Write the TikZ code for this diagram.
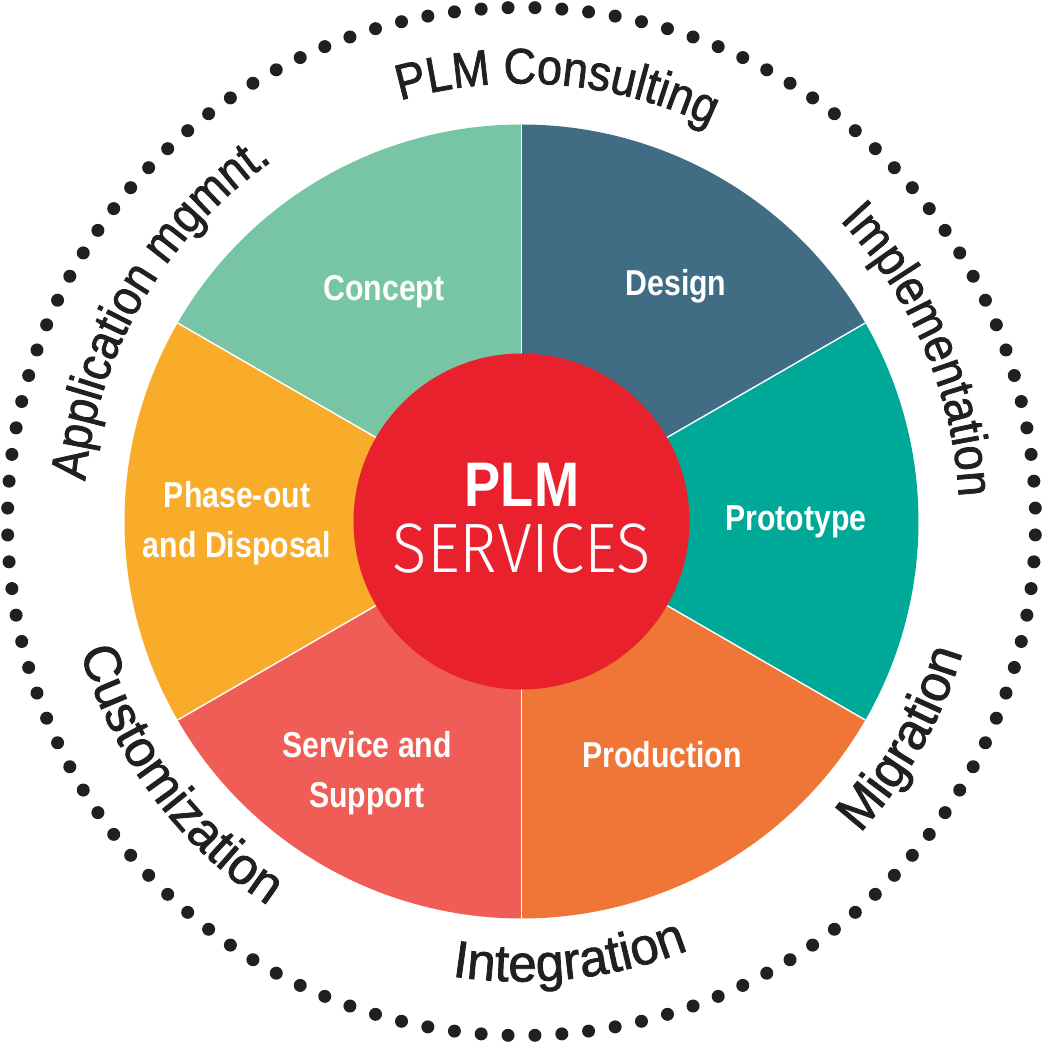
\documentclass[tikz,border=0pt]{standalone}
\usepackage{fontspec}
\usetikzlibrary{decorations.text}
\newfontfamily\outerf[FakeStretch=0.9,FakeBold=1.5]{Liberation Sans}
\newfontfamily\outerbf[FakeStretch=0.98,FakeBold=1.5]{Liberation Sans}
\newfontfamily\segf[FakeStretch=0.84]{Liberation Sans}
\newfontfamily\plmf[FakeStretch=0.86]{Liberation Sans}
\newfontfamily\lightf[FakeStretch=0.91]{Fira Sans Light}
\definecolor{cconcept}{HTML}{78C5A5}
\definecolor{cdesign}{HTML}{416D84}
\definecolor{cproto}{HTML}{00A997}
\definecolor{cprod}{HTML}{F07638}
\definecolor{cservice}{HTML}{EF5D56}
\definecolor{cphase}{HTML}{F8AC29}
\definecolor{chub}{HTML}{E9212D}
\definecolor{cdark}{HTML}{231F20}
\newcommand\olab{\outerf\fontsize{50}{60}\selectfont}
\newcommand\olabb{\outerbf\fontsize{52}{60}\selectfont}
\tikzset{
  seglab/.style={text=white, anchor=base, inner sep=0pt, font=\segf\bfseries\fontsize{36}{40}\selectfont},
  cwlabel/.style={decorate, decoration={text along path, text align=center, text color=cdark, text={|\olab|#1}}},
  ccwlabel/.style={decorate, decoration={text along path, text align=center, text color=cdark, text={|\olabb|#1}}}
}
\begin{document}
\begin{tikzpicture}[x=1pt,y=1pt]
\useasboundingbox (-521.5,-521.5) rectangle (522.5,521.5);
\def\R{397}
% dotted ring
\foreach \k in {0,...,119}
  \fill[cdark] ({1.5+3*\k}:514) circle[radius=6.5];
% wheel segments
\fill[cdesign]  (0,0) -- (30:\R)  arc[start angle=30,  end angle=90,  radius=\R] -- cycle;
\fill[cconcept] (0,0) -- (90:\R)  arc[start angle=90,  end angle=150, radius=\R] -- cycle;
\fill[cphase]   (0,0) -- (150:\R) arc[start angle=150, end angle=210, radius=\R] -- cycle;
\fill[cservice] (0,0) -- (210:\R) arc[start angle=210, end angle=270, radius=\R] -- cycle;
\fill[cprod]    (0,0) -- (270:\R) arc[start angle=270, end angle=330, radius=\R] -- cycle;
\fill[cproto]   (0,0) -- (-30:\R) arc[start angle=-30, end angle=30,  radius=\R] -- cycle;
\foreach \a in {30,90,150,210,270,330}
  \draw[white, line width=1.4pt] (0,0) -- (\a:\R);
% hub
\node[circle, fill=chub, minimum size=336pt, inner sep=0pt] (hub) at (0,0) {};
\node[text=white, anchor=base, inner sep=0pt, font=\plmf\bfseries\fontsize{63}{70}\selectfont] (plm) at (0.5,14.5) {PLM};
\node[text=white, anchor=base, inner sep=0pt, font=\lightf\fontsize{70}{80}\selectfont] (services) at (0.5,-51.5) {SERVICES};
% segment labels
\node[seglab] (concept) at (-137.5,221) {Concept};
\node[seglab] (design) at (154.5,225.5) {Design};
\node[seglab] (proto) at (274.5,-9.5) {Prototype};
\node[seglab] (prod) at (140.5,-246.5) {Production};
\node[seglab] (serv1) at (-154.5,-236.5) {Service and};
\node[seglab] (serv2) at (-154.5,-285.5) {Support};
\node[seglab] (phase1) at (-284.5,13.5) {Phase-out};
\node[seglab] (phase2) at (-284.5,-36) {and Disposal};
% outer labels (clockwise, top half)
\path[cwlabel={PLM Consulting}] (130.3:438) arc[start angle=130.3, end angle=40.3, radius=438];
\path[cwlabel={Implementation}] (68.3:438) arc[start angle=68.3, end angle=-21.7, radius=438];
\path[cwlabel={Application mgmnt.}] (194.7:438) arc[start angle=194.7, end angle=104.7, radius=438];
% outer labels (counter-clockwise, bottom half)
\path[ccwlabel={Migration}] (-74.6:460) arc[start angle=-74.6, end angle=15.4, radius=460];
\path[ccwlabel={Integration}] (-128.7:460) arc[start angle=-128.7, end angle=-38.7, radius=460];
\path[ccwlabel={Customization}] (171.5:460) arc[start angle=171.5, end angle=261.5, radius=460];
\end{tikzpicture}
\end{document}
